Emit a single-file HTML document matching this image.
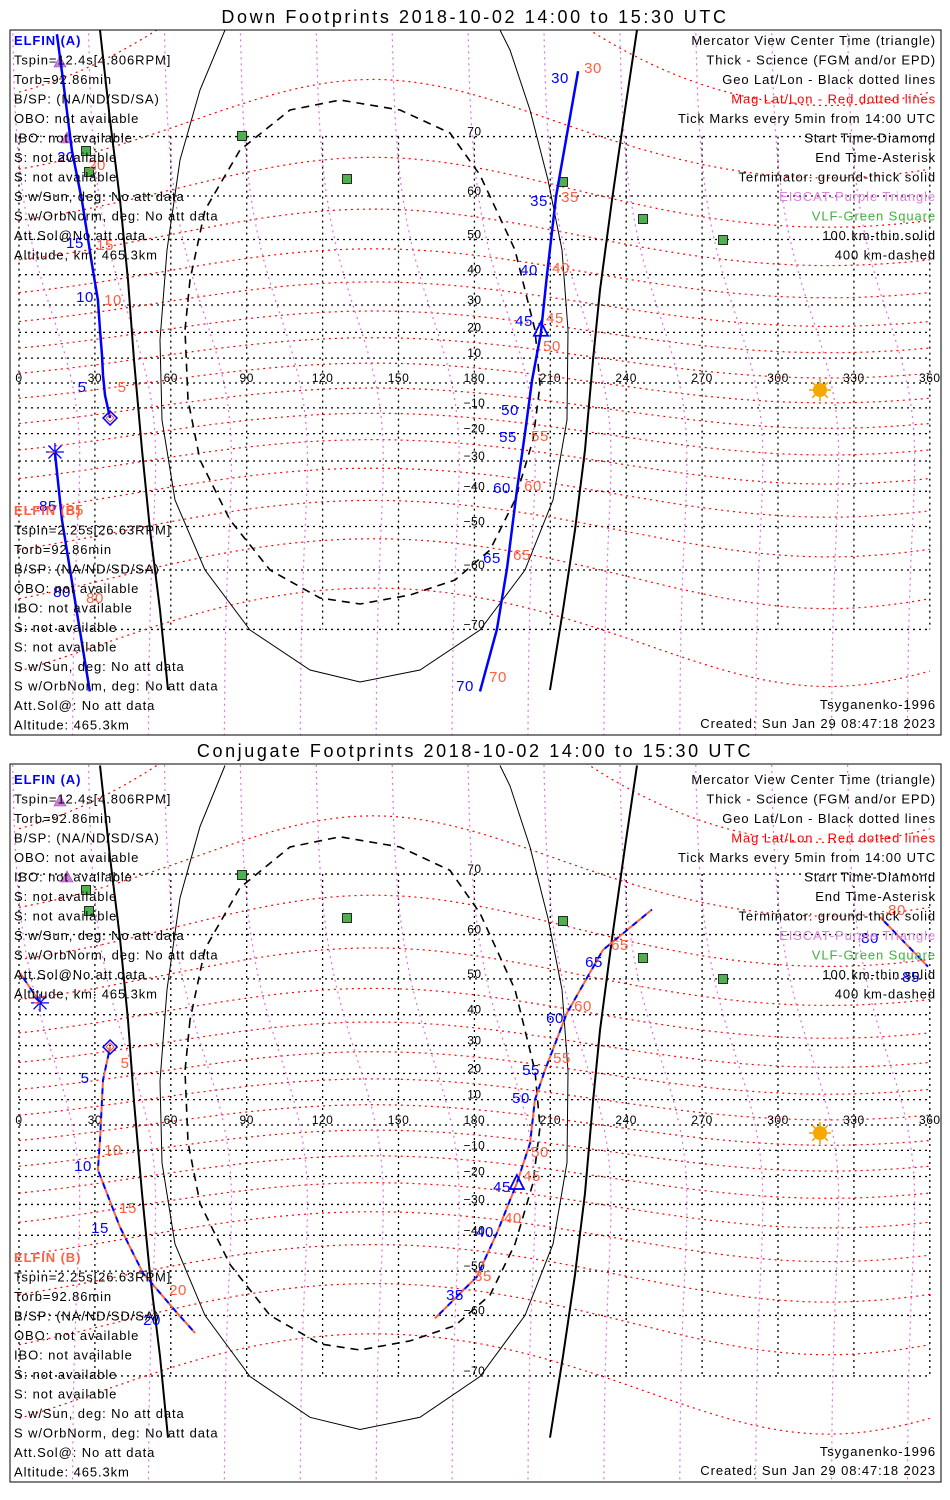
<!DOCTYPE html>
<html><head><meta charset="utf-8">
<style>
html,body{margin:0;padding:0;background:#fff;}
svg{display:block;font-family:"Liberation Sans",sans-serif;}
</style></head>
<body>
<svg id="chart" width="950" height="1500" viewBox="0 0 950 1500" xmlns="http://www.w3.org/2000/svg">
<rect x="0" y="0" width="950" height="1500" fill="#fff"/>
</svg>
<script>
// ---------- data arrays ----------
const lonTicks=[0,30,60,90,120,150,180,210,240,270,300,330,360];
const latTicks=[-70,-60,-50,-40,-30,-20,-10,10,20,30,40,50,60,70];
const magLats=[-70,-60,-50,-40,-30,-20,-10,0,10,20,30,40,50,60,70,80];
const magLons=[15,45,75,105,135,165,195,225,255,285,315,345];
// panel 1 (down footprints) tracks
const downA1Lon=[36,34,33.2,32.8,32,31.2,29.2,24.9,20.9,17,15];
const downA1Lat=[-14,-4.9,3.2,11.2,20.9,31.8,41.4,59,68,77.2,80.2];
const downA2Lon=[221,212.3,208.7,206.3,202.8,200,196.8,192.9,188.9,182.2];
const downA2Lat=[77.3,60,40,19.8,1.2,-19.8,-39.7,-59.7,-70,-77];
const downA3Lon=[14.2,17,22.1,28];
const downA3Lat=[-26.8,-48.3,-65.5,-77];
// panel 2 (conjugate) tracks
const conjC1Lon=[0.4,8.3];
const conjC1Lat=[51.5,43.5];
const conjC2Lon=[36,33.2,32,31.2,39.9,49,62.5,69.6];
const conjC2Lat=[29.5,17.5,-6,-17.5,-37.4,-50.5,-59.5,-63.3];
const conjC3Lon=[164.4,181,188.9,196.8,202,203.9,207.9,216.6,230.8,250.2];
const conjC3Lat=[-60.6,-51.4,-39.3,-22.4,-7.1,9.9,21.3,40.5,56.8,64.6];
const conjC4Lon=[340.3,359.3];
const conjC4Lat=[63.3,53];
// tick-mark labels: text, x, y
const down1Blue=[["5",82,392],["10",85,302],["15",75,248],["20",66,162],["30",560,83],["35",539,206],["40",529,275],["45",524,326],["50",510,415],["55",508,442],["60",502,493],["65",492,563],["70",465,691],["85",48,511],["80",62,597]];
const down1Red=[["5",122,392],["10",113,305],["15",105,250],["20",97,170],["30",593,73],["35",570,202],["40",561,273],["45",555,323],["50",552,351],["55",540,441],["60",533,491],["65",522,560],["70",498,682],["85",75,515],["80",95,603]];
const conjBlue=[["5",85,1083],["10",83,1171],["15",100,1233],["20",152,1325],["35",455,1300],["40",485,1237],["45",502,1192],["50",521,1103],["55",531,1075],["60",555,1023],["65",594,967],["80",870,943],["85",911,982]];
const conjRed=[["5",125,1068],["10",113,1155],["15",128,1213],["20",178,1295],["35",483,1281],["40",513,1223],["45",532,1181],["50",540,1157],["55",562,1063],["60",583,1011],["65",620,950],["80",897,915]];
const greenSites=[[86,151],[89,172],[242,136],[347,179],[563,182],[643,219],[723,240]];
const eiscatSites=[[60,62],[67,138]];

// ---------- helpers ----------
const NS="http://www.w3.org/2000/svg";
const svg=document.getElementById('chart');
function el(tag,attrs,parent){const e=document.createElementNS(NS,tag);for(const k in attrs)e.setAttribute(k,attrs[k]);(parent||svg).appendChild(e);return e;}
const panels=[{y0:383,k:142,top:30,bot:735,title:"Down Footprints 2018-10-02 14:00 to 15:30 UTC",ty:16,off:0},
              {y0:1125,k:144.6,top:764,bot:1482,title:"Conjugate Footprints 2018-10-02 14:00 to 15:30 UTC",ty:750,off:739}];
function xOf(lon){return 19+lon*2.53;}
function yOf(p,lat){return p.y0-p.k*Math.log(Math.tan(Math.PI/4+lat*Math.PI/360));}
function py(p,y){return p.y0+(y-383)*p.k/142;}
function shapePts(p,pts){return pts.map(q=>q[0]+","+py(p,q[1]).toFixed(1)).join(" ");}

const termLeft=[[100,30],[110,120],[120,200],[128,280],[134,360],[142,450],[150,530],[160,610],[168,690]];
const termRight=[[637,30],[625,110],[612,200],[600,290],[593,360],[585,450],[575,530],[563,610],[550,690]];
const thinEll=[[225,30],[200,90],[180,160],[167,250],[160,340],[162,420],[175,500],[205,570],[250,630],[310,670],[360,682],[420,670],[480,630],[525,570],[553,500],[567,420],[568,330],[562,250],[548,180],[530,110],[510,50],[500,30]];
const dashEll=[[190,280],[185,330],[188,400],[200,460],[230,520],[270,570],[320,598],[360,604],[410,595],[455,580],[490,550],[515,500],[533,440],[540,385],[535,330],[515,250],[480,175],[450,133],[400,110],[340,100],[290,110],[240,150],[205,210],[190,280]];

function track(g,p,lons,lats,conj,name){
  const pts=lons.map((l,i)=>xOf(l).toFixed(1)+","+yOf(p,lats[i]).toFixed(1)).join(" ");
  if(!conj){
    const t=el('polyline',{points:pts,fill:'none',stroke:'#0000ff','stroke-width':2.5},g);
    
    
  }else{
    const r=el('polyline',{points:pts,fill:'none',stroke:'#ff6040','stroke-width':2,'stroke-dasharray':'6 6'},g);
    
    
    const b=el('polyline',{points:pts,fill:'none',stroke:'#0000ff','stroke-width':2,'stroke-dasharray':'6 6','stroke-dashoffset':6},g);
    
    
  }
}
function txt(g,s,x,y,attrs){const t=el('text',Object.assign({x:x,y:y,'font-size':13,'letter-spacing':0.9},attrs||{}),g);t.textContent=s;return t;}

const leftA=["Tspin=12.4s[4.806RPM]","Torb=92.86min","B/SP: (NA/ND/SD/SA)","OBO: not available","IBO: not available","S: not available","S: not available","S w/Sun, deg: No att data","S w/OrbNorm, deg: No att data","Att.Sol@No att data","Altitude, km: 465.3km"];
const leftB=["Tspin=2.25s[26.63RPM]","Torb=92.86min","B/SP: (NA/ND/SD/SA)","OBO: not available","IBO: not available","S: not available","S: not available","S w/Sun, deg: No att data","S w/OrbNorm, deg: No att data","Att.Sol@: No att data","Altitude: 465.3km"];
const rightLines=[["Mercator View Center Time (triangle)","#000"],["Thick - Science (FGM and/or EPD)","#000"],["Geo Lat/Lon - Black dotted lines","#000"],["Mag Lat/Lon - Red dotted lines","#ff0000"],["Tick Marks every 5min from 14:00 UTC","#000"],["Start Time-Diamond","#000"],["End Time-Asterisk","#000"],["Terminator: ground-thick solid","#000"],["EISCAT-Purple Triangle","#e080e0"],["VLF-Green Square","#40b040"],["100 km-thin solid","#000"],["400 km-dashed","#000"]];

panels.forEach((p,pi)=>{
  const g=el('g',{});
  
  
  const ti=txt(g,p.title,475,p.ty+7,{'font-size':18,'text-anchor':'middle','letter-spacing':2.6});
  
  
  const cid='clip'+pi;
  const cp=el('clipPath',{id:cid},g);el('rect',{x:10,y:p.top,width:931,height:p.bot-p.top},cp);
  const m=el('g',{'clip-path':'url(#'+cid+')'},g);
  // geo grid
  latTicks.concat([0]).forEach(lat=>{
    const y=yOf(p,lat);
    const l=el('line',{x1:19,x2:929,y1:y,y2:y,stroke:'#000','stroke-width':1.3,'stroke-dasharray':'2 4'},m);
    
    
  });
  lonTicks.forEach(lon=>{
    const x=xOf(lon);
    const l=el('line',{x1:x,x2:x,y1:yOf(p,70),y2:yOf(p,-70),stroke:'#000','stroke-width':1.3,'stroke-dasharray':'2 4'},m);
    
    
  });
  // magnetic lat lines
  magLats.forEach(ml=>{
    const pts=[];for(let lon=0;lon<=360;lon+=5){const gl=ml-8*Math.cos((lon-320)*Math.PI/180)*Math.cos(ml*Math.PI/360);pts.push(xOf(lon).toFixed(1)+","+yOf(p,Math.max(-85,Math.min(85,gl))).toFixed(1));}
    const l=el('polyline',{points:pts.join(" "),fill:'none',stroke:'#ff0000','stroke-width':1.2,'stroke-dasharray':'2 4'},m);
    
    
  });
  // magnetic lon lines
  magLons.forEach(ml=>{
    const pts=[];for(let lat=-84;lat<=84;lat+=4){const lon=ml-12*Math.sin(lat*Math.PI/180)+6*Math.cos(lat*Math.PI/90);pts.push(xOf(lon).toFixed(1)+","+yOf(p,lat).toFixed(1));}
    const l=el('polyline',{points:pts.join(" "),fill:'none',stroke:'#e070e0','stroke-width':1.2,'stroke-dasharray':'2 4'},m);
    
    
  });
  // terminator & footprint contours
  [[termLeft,2,'terminator-left',null],[termRight,2,'terminator-right',null],[thinEll,1,'100km-contour',null],[dashEll,1.6,'400km-contour','8 6']].forEach(s=>{
    const a={points:shapePts(p,s[0]),fill:'none',stroke:'#000','stroke-width':s[1]};if(s[3])a['stroke-dasharray']=s[3];
    const l=el('polyline',a,m);
    
    
  });
  // axis labels
  lonTicks.forEach(lon=>{const t=txt(m,String(lon),xOf(lon),p.y0-1,{'text-anchor':'middle','font-size':12,'letter-spacing':0.5});
    
    });
  latTicks.forEach(lat=>{const t=txt(m,String(lat).replace('-','\u2212'),xOf(180),yOf(p,lat)-1,{'text-anchor':'middle','font-size':12,'letter-spacing':0.5});
    
    });
  // sites
  greenSites.forEach(s=>{const r=el('rect',{x:s[0]-4.5,y:s[1]+p.off-4.5,width:9,height:9,fill:'#50b050',stroke:'#000','stroke-width':0.8},m);
    
    });
  eiscatSites.forEach(s=>{const t=el('polygon',{points:`${s[0]-6},${s[1]+p.off+5} ${s[0]+6},${s[1]+p.off+5} ${s[0]},${s[1]+p.off-6}`,fill:'#d080e0',stroke:'#a040b0','stroke-width':0.6},m);
    
    });
  // sun
  const sy=390+p.off*1.0+(pi?4:0);
  const sun=el('g',{},m);
  
  
  for(let a=0;a<8;a++){const an=a*Math.PI/4;el('line',{x1:820+7*Math.cos(an),y1:sy+7*Math.sin(an),x2:820+11*Math.cos(an),y2:sy+11*Math.sin(an),stroke:'#f0a000','stroke-width':1.5},sun);}
  el('circle',{cx:820,cy:sy,r:7,fill:'#f5a800'},sun);
  // tracks
  if(pi===0){
    track(m,p,downA1Lon,downA1Lat,false,'elfin-a-track-start');
    track(m,p,downA2Lon,downA2Lat,false,'elfin-a-track-mid');
    track(m,p,downA3Lon,downA3Lat,false,'elfin-a-track-end');
  }else{
    track(m,p,conjC1Lon,conjC1Lat,true,'conj-track-end');
    track(m,p,conjC2Lon,conjC2Lat,true,'conj-track-start');
    track(m,p,conjC3Lon,conjC3Lat,true,'conj-track-mid');
    track(m,p,conjC4Lon,conjC4Lat,true,'conj-track-wrap');
  }
  // markers
  const st=pi?[conjC2Lon[0],conjC2Lat[0]]:[downA1Lon[0],downA1Lat[0]];
  const en=pi?[conjC1Lon[1],conjC1Lat[1]]:[downA3Lon[0],downA3Lat[0]];
  const tr=pi?[196.8,-22.4]:[206.3,21];
  const dx=xOf(st[0]),dy=yOf(p,st[1]);
  const dia=el('polygon',{points:`${dx},${dy-7} ${dx+7},${dy} ${dx},${dy+7} ${dx-7},${dy}`,fill:'none',stroke:'#0000ff','stroke-width':1.5},m);
  
  
  el('polygon',{points:`${dx},${dy-4} ${dx+4},${dy} ${dx},${dy+4} ${dx-4},${dy}`,fill:'none',stroke:'#ff5030','stroke-width':1},m);
  const ex=xOf(en[0]),ey=yOf(p,en[1]);
  const ast=el('g',{},m);
  
  
  [[0,9],[9,0],[6.5,6.5],[6.5,-6.5]].forEach(v=>el('line',{x1:ex-v[0],y1:ey-v[1],x2:ex+v[0],y2:ey+v[1],stroke:'#0000ff','stroke-width':1.3},ast));
  el('line',{x1:ex-6,y1:ey,x2:ex,y2:ey,stroke:'#ff5030','stroke-width':1.3},ast);
  const tx=xOf(tr[0]),ty=yOf(p,tr[1]);
  const tri=el('polygon',{points:`${tx-7},${ty+6} ${tx+7},${ty+6} ${tx},${ty-8}`,fill:'none',stroke:'#0000ff','stroke-width':1.8},m);
  
  
  // tick labels
  (pi?conjBlue:down1Blue).forEach(l=>{const t=txt(m,l[0],l[1],l[2],{'font-size':15,fill:'#0000ff','text-anchor':'middle','letter-spacing':0.5});
    
    });
  (pi?conjRed:down1Red).forEach(l=>{const t=txt(m,l[0],l[1],l[2],{'font-size':15,fill:'#ff6040','text-anchor':'middle','letter-spacing':0.5});
    
    });
  // text blocks
  const o=p.off;
  const ha=txt(g,"ELFIN (A)",14,45+o,{fill:'#0000ff','font-weight':'bold'});
  
  
  leftA.forEach((s,i)=>{const t=txt(g,s,14,64.5+i*19.5+o);
    
    });
  const by=pi?1262:515;
  const hb=txt(g,"ELFIN (B)",14,by,{fill:'#ff6040','font-weight':'bold'});
  
  
  leftB.forEach((s,i)=>{const t=txt(g,s,14,by+19.5*(i+1));
    
    });
  rightLines.forEach((s,i)=>{const t=txt(g,s[0],936,45+i*19.5+o,{'text-anchor':'end',fill:s[1]});
    
    });
  const mdl=txt(g,"Tsyganenko-1996",936,p.bot-26,{'text-anchor':'end'});
  
  
  const cr=txt(g,"Created: Sun Jan 29 08:47:18 2023",936,p.bot-7,{'text-anchor':'end'});
  
  
  const fr=el('rect',{x:10,y:p.top,width:931,height:p.bot-p.top,fill:'none',stroke:'#000','stroke-width':1},g);
  
  
});
</script>
</body></html>
